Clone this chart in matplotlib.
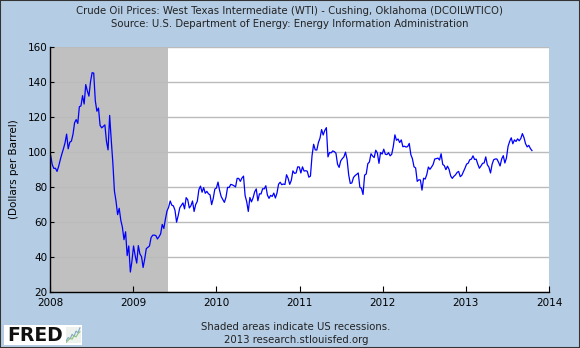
import numpy as np
import pandas as pd
import matplotlib
matplotlib.use('Agg')
import matplotlib.pyplot as plt
import matplotlib.dates as mdates
from matplotlib.patches import Rectangle

# Weekly WTI spot price (USD per barrel), Fridays from 2008-01-04
wti_2008 = [97.9, 92.7, 90.6, 90.7, 88.9, 91.8, 95.5, 98.8, 101.8, 105.2, 110.2, 101.8, 105.6,
            106.2, 110.1, 116.7, 118.5, 116.3, 125.9, 126.3, 132.2, 127.4, 138.5, 134.9, 131.9,
            140.2, 145.3, 145.1, 129.3, 123.3, 125.1, 115.2, 113.8, 114.6, 115.5, 106.2, 101.2,
            120.9, 106.9, 93.9, 77.7, 71.9, 64.2, 67.8, 61.0, 57.0, 49.9, 54.4, 40.8, 46.3, 31.4, 37.7]
wti_2009 = [46.3, 40.8, 36.5, 46.5, 41.7, 40.2, 34.0, 38.9, 44.8, 45.5, 46.3, 51.1, 52.4,
            52.5, 52.2, 50.3, 51.6, 53.2, 58.6, 56.3, 61.7, 66.3, 68.4, 72.0, 69.6, 69.2,
            66.7, 59.9, 63.6, 68.1, 69.5, 70.9, 67.5, 73.9, 72.7, 68.0, 69.3, 72.0, 66.0,
            70.0, 71.8, 78.5, 80.5, 77.0, 79.6, 76.4, 77.5, 76.1, 75.5, 69.9, 73.4, 78.8]
wti_2010 = [79.4, 82.8, 78.0, 74.5, 72.9, 71.2, 74.1, 79.8, 79.7, 81.5, 81.2, 80.7, 80.0,
            84.9, 84.9, 83.2, 85.1, 86.2, 75.1, 71.6, 66.0, 74.0, 71.5, 73.8, 77.2, 78.9,
            72.1, 76.1, 76.0, 79.0, 78.9, 80.7, 75.4, 73.5, 75.2, 74.6, 76.5, 73.7, 76.5,
            81.6, 82.7, 81.3, 81.7, 81.4, 87.0, 84.9, 81.5, 83.8, 89.2, 87.8, 88.0, 91.5, 91.4]
wti_2011 = [88.0, 91.5, 89.1, 89.3, 89.0, 85.6, 86.2, 97.9, 104.4, 101.2, 101.1, 105.4,
            107.9, 112.8, 109.7, 112.3, 113.9, 97.2, 99.7, 99.5, 100.6, 100.2, 99.3, 93.0, 91.2,
            94.9, 96.2, 97.2, 99.9, 95.7, 86.9, 82.0, 82.3, 85.4, 86.5, 87.2, 88.0, 79.9, 79.2,
            75.7, 86.8, 87.4, 93.3, 94.3, 99.0, 97.7, 96.8, 101.0, 99.4, 93.5, 99.7, 98.8]
wti_2012 = [101.6, 98.7, 98.5, 99.6, 97.8, 98.7, 103.2, 109.8, 106.7, 107.4, 105.4, 106.9, 103.0,
            103.3, 102.8, 103.1, 104.9, 98.5, 96.1, 91.5, 90.9, 83.2, 84.1, 84.0, 78.2, 85.0,
            84.5, 87.1, 91.4, 90.1, 91.4, 92.9, 96.0, 96.2, 96.5, 95.4, 99.0, 92.9, 92.2,
            89.9, 91.9, 90.0, 86.3, 84.9, 86.1, 86.9, 88.3, 88.9, 85.9, 86.7, 88.7, 90.8]
wti_2013 = [93.1, 93.6, 95.6, 95.9, 97.8, 95.7, 95.9, 93.1, 90.7, 92.0, 93.5, 93.7, 97.2,
            92.7, 91.3, 88.0, 93.0, 95.6, 96.0, 96.0, 94.2, 92.0, 96.0, 97.9, 93.7, 96.6,
            103.2, 106.0, 108.1, 104.7, 106.9, 106.0, 107.5, 106.4, 107.7, 110.5, 108.2, 104.7,
            102.9, 103.8, 102.0, 100.8]

prices = wti_2008 + wti_2009 + wti_2010 + wti_2011 + wti_2012 + wti_2013
dates = pd.date_range('2008-01-04', periods=len(prices), freq='W-FRI')

recession_start = '2008-01-01'
recession_end = '2009-06-01'

# little sparkline in the FRED logo
logo_line_a = [1, 2, 1.6, 3, 2.4, 4, 3.5, 5]
logo_line_b = [0.5, 1.2, 1.8, 1.5, 2.6, 2.2, 3.2, 3.8]

bg = '#B4CCE4'
fig = plt.figure(figsize=(5.8, 3.48), dpi=100, facecolor=bg)
ax = fig.add_axes([0.0862, 0.161, 0.8604, 0.704])
ax.set_facecolor('white')

ax.grid(axis='y', color='#BBBBBB', linewidth=1, zorder=0)
ax.axvspan(pd.Timestamp(recession_start), pd.Timestamp(recession_end), color='#C0C0C0', lw=0, zorder=1)
ax.plot(dates, prices, color='#0000FF', linewidth=0.9, zorder=2)

ax.set_xlim(pd.Timestamp('2008-01-01'), pd.Timestamp('2014-01-01'))
ax.set_ylim(20, 160)
ax.set_yticks(np.arange(20, 161, 20))
ax.xaxis.set_major_locator(mdates.YearLocator())
ax.xaxis.set_major_formatter(mdates.DateFormatter('%Y'))
ax.tick_params(axis='both', direction='in', labelsize=7.5, length=4, width=0.8, colors='black', pad=2)
ax.tick_params(axis='x', pad=4.5)
ax.tick_params(axis='y', length=3)
for s in ['top', 'right']:
    ax.spines[s].set_visible(False)
for s in ['left', 'bottom']:
    ax.spines[s].set_color('black')
    ax.spines[s].set_linewidth(1)
ax.set_ylabel('(Dollars per Barrel)', fontsize=7.5, labelpad=6)

fig.text(0.5, 0.968, 'Crude Oil Prices: West Texas Intermediate (WTI) - Cushing, Oklahoma (DCOILWTICO)',
         ha='center', va='center', fontsize=7.3, color='#222222')
fig.text(0.5, 0.932, 'Source: U.S. Department of Energy: Energy Information Administration',
         ha='center', va='center', fontsize=7.3, color='#222222')
fig.text(0.51, 0.06, 'Shaded areas indicate US recessions.', ha='center', va='center', fontsize=7.3, color='#222222')
fig.text(0.51, 0.022, '2013 research.stlouisfed.org', ha='center', va='center', fontsize=7.3, color='#222222')

# FRED logo
fig.patches.append(Rectangle((0.007, 0.008), 0.135, 0.058, transform=fig.transFigure,
                             facecolor='white', edgecolor='none', zorder=1))
fig.text(0.012, 0.037, 'FRED', ha='left', va='center', fontsize=13.5, fontweight='heavy', color='#111111')
icon = fig.add_axes([0.113, 0.014, 0.026, 0.046])
icon.set_zorder(3)
icon.set_facecolor('#EEF2EE')
icon.plot(logo_line_a, color='#7FA8C8', lw=0.8)
icon.plot(logo_line_b, color='#8FBF7F', lw=0.8)
icon.set_xticks([])
icon.set_yticks([])
for s in icon.spines.values():
    s.set_visible(False)

fig.patches.append(Rectangle((0, 0), 1, 1, transform=fig.transFigure,
                             facecolor='none', edgecolor='#333333', linewidth=1.5))

plt.savefig('out.png', dpi=100, facecolor=bg)
